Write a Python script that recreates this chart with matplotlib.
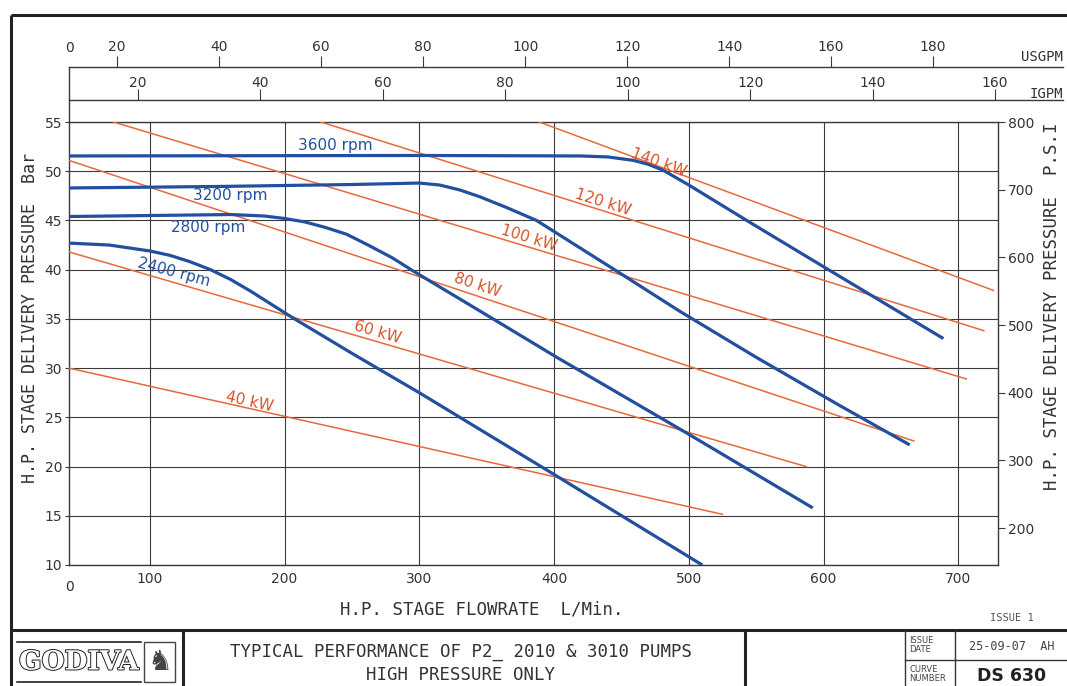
import matplotlib
matplotlib.use("Agg")
import matplotlib.pyplot as plt
import matplotlib.patheffects as pe
from matplotlib.patches import Rectangle

W, H = 1067, 686
MONO = "DejaVu Sans Mono"
plt.rcParams["font.family"] = ["DejaVu Sans"]

BLUE = "#22509e"
ORANGE = "#e9683a"
KW_TEXT = "#d8532a"
GRID = "#3a3a3a"

# ───────── pump curves : flow L/min, pressure bar ─────────
rpm_labels = ["3600 rpm", "3200 rpm", "2800 rpm", "2400 rpm"]
flow_3600 = [40, 300, 420, 440, 459, 470, 481, 500, 543, 600, 689]
bar_3600 = [51.55, 51.6, 51.55, 51.45, 51.1, 50.7, 50.1, 48.6, 45.0, 40.3, 33.0]
flow_3200 = [40, 150, 250, 300, 315, 330, 345, 365, 387, 446, 493, 550, 612, 664]
bar_3200 = [48.3, 48.45, 48.65, 48.8, 48.6, 48.1, 47.4, 46.3, 45.0, 39.9, 35.8, 31.1, 26.2, 22.2]
flow_2800 = [40, 100, 160, 185, 200, 215, 230, 246, 262, 280, 295, 345, 402, 501, 592]
bar_2800 = [45.4, 45.5, 45.6, 45.45, 45.2, 44.85, 44.3, 43.6, 42.5, 41.2, 39.9, 35.8, 31.1, 23.2, 15.8]
flow_2400 = [40, 70, 100, 115, 130, 145, 160, 175, 190, 205, 250, 300, 400, 510]
bar_2400 = [42.7, 42.5, 41.9, 41.45, 40.8, 40.0, 39.0, 37.8, 36.5, 35.2, 31.5, 27.5, 19.2, 10.0]

# label anchor (flow, bar) and rotation
rpm_label_flow = [238, 160, 143, 118]
rpm_label_bar = [52.65, 47.55, 44.3, 39.7]
rpm_label_rot = [0, 0, 0, -15]

# ───────── constant power lines ─────────
kw_labels = ["40 kW", "60 kW", "80 kW", "100 kW", "120 kW", "140 kW"]
kw_flow_start = [40, 40, 40, 73, 227, 389]
kw_bar_start = [30.0, 41.8, 51.1, 55.0, 55.0, 55.0]
kw_flow_end = [525, 587, 667, 706, 719, 726]
kw_bar_end = [15.15, 20.0, 22.6, 28.9, 33.8, 37.9]
kw_label_flow = [174, 269, 343, 381, 436, 478]
kw_label_bar = [26.6, 33.6, 38.4, 43.2, 46.8, 50.9]
kw_label_rot = [-12.5, -16, -18, -17, -17.5, -20]

flow_ticks = [100, 200, 300, 400, 500, 600, 700]
bar_ticks = [10, 15, 20, 25, 30, 35, 40, 45, 50, 55]
psi_ticks = [200, 300, 400, 500, 600, 700, 800]
usgpm_ticks = [20, 40, 60, 80, 100, 120, 140, 160, 180]
igpm_ticks = [20, 40, 60, 80, 100, 120, 140, 160]

L_PER_USG = 3.78541
L_PER_IG = 4.54609

# ───────── layout (pixels) ─────────
PL, PR, PT, PB = 69, 998, 122, 565
XMIN, XMAX = 40, 729.5
TOP_R = 1063


def rect(l, t, r, b):
    return [l / W, 1 - b / H, (r - l) / W, (b - t) / H]


fig = plt.figure(figsize=(W / 100, H / 100), dpi=100)

# overlay for the drawing frame / title block
ov = fig.add_axes([0, 0, 1, 1])
ov.set_xlim(0, W)
ov.set_ylim(H, 0)
ov.axis("off")

frame = dict(color="#222222", lw=2.2, solid_capstyle="butt")
thin = dict(color="#333333", lw=1.0)
ov.plot([11, W], [15, 15], **frame)
ov.plot([11, 11], [15, H], **frame)
ov.plot([11, W], [630, 630], **frame)
ov.plot([183, 183], [630, H], **frame)
ov.plot([745, 745], [630, H], **frame)
ov.plot([905, 905], [630, H], **thin)
ov.plot([955, 955], [630, H], **thin)
ov.plot([905, W], [660, 660], **thin)
ov.plot([PL, PL], [67, PT], color=GRID, lw=1.0)

# ───────── main chart ─────────
ax = fig.add_axes(rect(PL, PT, PR, PB))
ax.set_xlim(XMIN, XMAX)
ax.set_ylim(10, 55)
ax.set_xticks(flow_ticks)
ax.set_yticks(bar_ticks)
ax.grid(True, color=GRID, lw=0.8)
ax.set_axisbelow(True)
for s in ax.spines.values():
    s.set_color(GRID)
    s.set_linewidth(1.0)
ax.tick_params(axis="x", length=0, pad=5, labelsize=10, labelcolor="#333333")
ax.tick_params(axis="y", length=3, pad=2, labelsize=10, color=GRID, labelcolor="#333333")

for fs, bs, fe, be in zip(kw_flow_start, kw_bar_start, kw_flow_end, kw_bar_end):
    ax.plot([fs, fe], [bs, be], color=ORANGE, lw=1.1, zorder=3)

curves = [(flow_3600, bar_3600), (flow_3200, bar_3200),
          (flow_2800, bar_2800), (flow_2400, bar_2400)]
for fl, br in curves:
    ax.plot(fl, br, color=BLUE, lw=2.3, zorder=4, solid_capstyle="butt",
            solid_joinstyle="round")

for lab, fx_, by, rot in zip(rpm_labels, rpm_label_flow, rpm_label_bar, rpm_label_rot):
    ax.text(fx_, by, lab, color=BLUE, fontsize=11, rotation=rot,
            ha="center", va="center", rotation_mode="anchor", zorder=5)
for lab, fx_, by, rot in zip(kw_labels, kw_label_flow, kw_label_bar, kw_label_rot):
    ax.text(fx_, by, lab, color=KW_TEXT, fontsize=11, rotation=rot,
            ha="center", va="center", rotation_mode="anchor", zorder=5)

# psi on the right
ax2 = ax.twinx()
ax2.set_ylim(10 * 800 / 55, 800)
ax2.set_yticks(psi_ticks)
for s in ax2.spines.values():
    s.set_visible(False)
ax2.tick_params(axis="y", length=5, pad=2, labelsize=10, color=GRID, labelcolor="#333333")

# ───────── USGPM / IGPM scales on top ─────────
x_top_max = XMIN + (TOP_R - PL) * (XMAX - XMIN) / (PR - PL)
for line_y, factor, ticks, name, name_y, pad in [
    (67, L_PER_USG, usgpm_ticks, "USGPM", 57, 3),
    (100, L_PER_IG, igpm_ticks, "IGPM", 94, 1),
]:
    t = fig.add_axes(rect(PL, line_y - 9, TOP_R, line_y))
    t.patch.set_visible(False)
    t.set_xlim(XMIN / factor, x_top_max / factor)
    t.set_xticks(ticks)
    t.set_yticks([])
    for k, s in t.spines.items():
        s.set_visible(k == "bottom")
    t.spines["bottom"].set_color(GRID)
    t.spines["bottom"].set_linewidth(1.0)
    t.tick_params(axis="x", bottom=True, top=False, direction="in", length=8,
                  color=GRID, labelbottom=False, labeltop=True, pad=pad,
                  labelsize=10, labelcolor="#333333")
    ov.text(TOP_R, name_y, name, family=MONO, fontsize=10, color="#333333",
            ha="right", va="center")

ov.text(70, 48, "0", fontsize=10, color="#333333", ha="center", va="center")
ov.text(69, 587, "0", fontsize=10, color="#333333", ha="center", va="center")

# axis titles
ov.text(482, 609, "H.P. STAGE FLOWRATE  L/Min.", family=MONO, fontsize=12.5,
        color="#333333", ha="center", va="center")
ov.text(30, 318, "H.P. STAGE DELIVERY PRESSURE  Bar", family=MONO, fontsize=12,
        color="#333333", ha="center", va="center", rotation=90)
ov.text(1052, 306, "H.P. STAGE DELIVERY PRESSURE  P.S.I", family=MONO, fontsize=12.5,
        color="#333333", ha="center", va="center", rotation=90)
ov.text(1012, 618, "ISSUE 1", family=MONO, fontsize=7.5, color="#555555",
        ha="center", va="center")

# ───────── title block ─────────
ov.plot([17, 141], [642, 642], color="#222222", lw=1.2)
ov.plot([17, 141], [682, 682], color="#222222", lw=1.2)
ov.text(79, 662, "GODIVA", family="DejaVu Serif", weight="bold", fontsize=19,
        color="white", ha="center", va="center",
        path_effects=[pe.Stroke(linewidth=1.4, foreground="#222222"), pe.Normal()])
ov.add_patch(Rectangle((144, 642), 31, 40, fill=False, ec="#444444", lw=1.0))
ov.text(159.5, 662, "\u265e", fontsize=20, color="#444444", ha="center", va="center")

ov.text(461, 652, "TYPICAL PERFORMANCE OF P2_ 2010 & 3010 PUMPS", family=MONO,
        fontsize=12.5, color="#333333", ha="center", va="center")
ov.text(460, 675, "HIGH PRESSURE ONLY", family=MONO, fontsize=12.5,
        color="#333333", ha="center", va="center")

ov.text(909, 645, "ISSUE\nDATE", fontsize=6, color="#444444", ha="left",
        va="center", linespacing=0.9)
ov.text(1012, 646, "25-09-07  AH", family=MONO, fontsize=8.5, color="#444444",
        ha="center", va="center")
ov.text(909, 674, "CURVE\nNUMBER", fontsize=6, color="#444444", ha="left",
        va="center", linespacing=0.9)
ov.text(1012, 676, "DS 630", fontsize=12.5, weight="bold", color="#222222",
        ha="center", va="center")

fig.savefig("out.png", dpi=100)
